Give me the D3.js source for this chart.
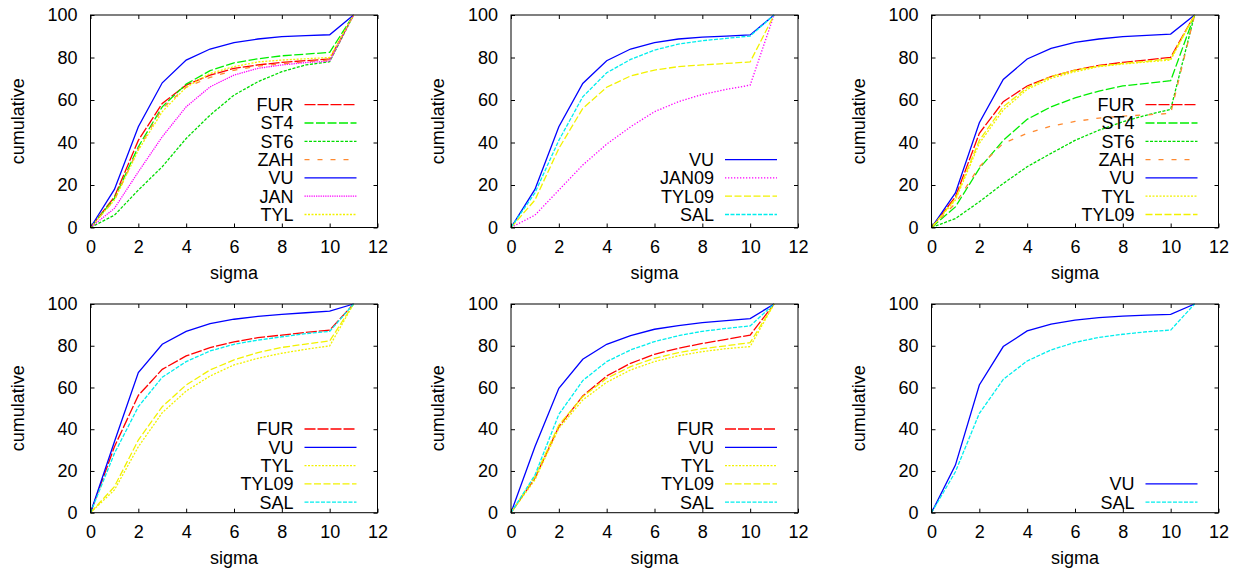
<!DOCTYPE html>
<html>
<head>
<meta charset="utf-8">
<script src="https://cdn.jsdelivr.net/npm/d3@7"></script>
<style>
  body { margin: 0; background: #fff; }
  svg text { font-family: "Liberation Sans", Arial, sans-serif; font-size: 18px; fill: #000; }
</style>
</head>
<body>
<svg id="chart" width="1241" height="575"></svg>
<script>
// x values shared by every curve
var sigma = [0, 1, 2, 3, 4, 5, 6, 7, 8, 9, 10, 11];
var xTicks = [0, 2, 4, 6, 8, 10, 12];
var yTicks = [0, 20, 40, 60, 80, 100];

// panel 1 (top left)
var p1_FUR = [0, 14.4, 41, 58.4, 67, 71.7, 74.9, 76.5, 77.7, 78.5, 79.3, 100];
var p1_ST4 = [0, 13.7, 38, 56.8, 67.5, 73.8, 77.5, 79.4, 80.8, 81.6, 82.4, 100];
var p1_ST6 = [0, 5.8, 17.6, 28.6, 41.9, 52.9, 62.3, 68.6, 73.3, 76.5, 78, 100];
var p1_ZAH = [0, 13, 37, 56, 66, 70.6, 74, 76, 77, 78, 78.8, 100];
var p1_VU  = [0, 17.9, 47.4, 68.1, 78.8, 84, 87, 88.7, 89.8, 90.3, 90.7, 100];
var p1_JAN = [0, 9, 26.2, 42.7, 56.8, 66.2, 71.7, 74.9, 76.5, 77.6, 78.3, 100];
var p1_TYL = [0, 12.9, 36.4, 54.5, 66, 72.5, 75.7, 77.9, 78.8, 79.4, 80, 100];

// panel 2 (top middle)
var p2_VU    = [0, 17.9, 47.4, 67.8, 78.5, 84, 87, 88.7, 89.6, 90.1, 90.6, 100];
var p2_JAN09 = [0, 5.8, 17.6, 29.4, 39.2, 47.4, 54.5, 59.2, 62.6, 65, 67, 100];
var p2_TYL09 = [0, 12.9, 37.2, 56, 66, 71.3, 74.1, 75.7, 76.5, 77.2, 77.9, 100];
var p2_SAL   = [0, 16.3, 41, 61.5, 72.8, 79.1, 83.5, 86.3, 87.9, 89, 90.1, 100];

// panel 3 (top right)
var p3_FUR   = [0, 14.4, 44.3, 59.2, 66.6, 71, 74.1, 76.3, 77.7, 78.8, 80.1, 100];
var p3_ST4   = [0, 9.7, 27.8, 41, 50.9, 56.8, 61, 64.2, 66.6, 67.8, 69.1, 100];
var p3_ST6   = [0, 4.2, 12.1, 20.7, 28.6, 34.9, 41, 45.8, 49.8, 52.9, 55.6, 100];
var p3_ZAH   = [0, 11.3, 28.6, 39.6, 44.3, 47.7, 49.9, 51.5, 52.4, 53, 53.7, 100];
var p3_VU    = [0, 16.3, 49.3, 69.7, 79.3, 84.3, 87.1, 88.7, 89.8, 90.4, 91, 100];
var p3_TYL   = [0, 12.9, 39.6, 55.3, 65, 70.2, 73.3, 75.7, 76.9, 77.9, 78.8, 100];
var p3_TYL09 = [0, 13.5, 41, 56.8, 65.8, 71, 74, 76, 77.2, 78.2, 79.4, 100];

// panel 4 (bottom left)
var p4_FUR   = [0, 31.6, 56.2, 68.7, 75.1, 79.1, 81.8, 83.9, 85.1, 86.4, 87.5, 100];
var p4_VU    = [0, 34, 67.1, 80.7, 86.9, 90.6, 92.7, 94.1, 95, 95.8, 96.6, 100];
var p4_TYL   = [0, 10.9, 31.6, 47.9, 58.3, 65.5, 70.8, 74, 76.4, 78.3, 79.9, 100];
var p4_TYL09 = [0, 12.5, 34.8, 50.8, 61.2, 68.4, 73.2, 76.7, 79.2, 80.8, 82.3, 100];
var p4_SAL   = [0, 28.4, 50.8, 64.9, 72.4, 77.5, 80.7, 82.7, 84.3, 85.8, 86.9, 100];

// panel 5 (bottom middle)
var p5_FUR   = [0, 16.5, 41.2, 55.9, 65.5, 71.6, 75.9, 78.8, 81.1, 83.1, 85.1, 100];
var p5_VU    = [0, 31.6, 59.6, 73.5, 80.7, 84.8, 87.9, 89.6, 91.1, 92, 93, 100];
var p5_TYL   = [0, 15.7, 40.4, 54, 62.5, 68.4, 72.4, 75.2, 77.2, 78.6, 79.6, 100];
var p5_TYL09 = [0, 17.3, 42, 55.6, 64.4, 70, 74, 76.7, 78.6, 80, 81.5, 100];
var p5_SAL   = [0, 18, 47.1, 63.3, 72.4, 78, 82, 84.8, 86.9, 88.3, 89.5, 100];

// panel 6 (bottom right)
var p6_VU  = [0, 22.8, 61.2, 79.6, 87.1, 90.4, 92.3, 93.5, 94.2, 94.7, 95, 100];
var p6_SAL = [0, 19.6, 47.6, 63.9, 72.7, 78, 81.6, 84, 85.5, 86.7, 87.5, 100];

var panels = [
  [["FUR", p1_FUR], ["ST4", p1_ST4], ["ST6", p1_ST6], ["ZAH", p1_ZAH], ["VU", p1_VU], ["JAN", p1_JAN], ["TYL", p1_TYL]],
  [["VU", p2_VU], ["JAN09", p2_JAN09], ["TYL09", p2_TYL09], ["SAL", p2_SAL]],
  [["FUR", p3_FUR], ["ST4", p3_ST4], ["ST6", p3_ST6], ["ZAH", p3_ZAH], ["VU", p3_VU], ["TYL", p3_TYL], ["TYL09", p3_TYL09]],
  [["FUR", p4_FUR], ["VU", p4_VU], ["TYL", p4_TYL], ["TYL09", p4_TYL09], ["SAL", p4_SAL]],
  [["FUR", p5_FUR], ["VU", p5_VU], ["TYL", p5_TYL], ["TYL09", p5_TYL09], ["SAL", p5_SAL]],
  [["VU", p6_VU], ["SAL", p6_SAL]]
];

// line styles, gnuplot-like
var styles = {
  FUR:   { color: "#ff0000", dash: "11,2" },
  ST4:   { color: "#00ee00", dash: "9,2.5" },
  ST6:   { color: "#00dd00", dash: "3,1.5" },
  ZAH:   { color: "#ff8a30", dash: "5,8" },
  VU:    { color: "#0000ff", dash: null },
  JAN:   { color: "#ff00ff", dash: "1.3,1" },
  JAN09: { color: "#ff00ff", dash: "1.3,1.7" },
  TYL:   { color: "#f2f200", dash: "2,1.5" },
  TYL09: { color: "#f2f200", dash: "7,2.5" },
  SAL:   { color: "#00eeee", dash: "4,1.5" }
};

var svg = d3.select("#chart");
var colLeft = [90.5, 511, 931.5], plotW = 287;
var rowTop = [15, 304], rowH = [212.5, 208.7];

panels.forEach(function(series, i){
  var col = i % 3, row = Math.floor(i / 3);
  var left = colLeft[col], top = rowTop[row], h = rowH[row];

  var x = d3.scaleLinear().domain([0, 12]).range([left, left + plotW]);
  var y = d3.scaleLinear().domain([0, 100]).range([top + h, top]);

  var g = svg.append("g");

  // curves
  var line = d3.line()
      .x(function(d, k){ return x(sigma[k]); })
      .y(function(d){ return y(d); });

  series.forEach(function(s){
    var st = styles[s[0]];
    g.append("path")
     .datum(s[1])
     .attr("d", line)
     .attr("fill", "none")
     .attr("stroke", st.color)
     .attr("stroke-width", 1.3)
     .attr("stroke-dasharray", st.dash);
  });

  // axes with inward ticks, mirrored
  g.append("g").attr("transform", "translate(0," + (top + h) + ")")
   .call(d3.axisBottom(x).tickValues(xTicks).tickSize(-4).tickPadding(13).tickFormat(d3.format("d")));
  g.append("g").attr("transform", "translate(0," + top + ")")
   .call(d3.axisTop(x).tickValues(xTicks).tickSize(-4).tickFormat(""));
  g.append("g").attr("transform", "translate(" + left + ",0)")
   .call(d3.axisLeft(y).tickValues(yTicks).tickSize(-4).tickPadding(13).tickFormat(d3.format("d")));
  g.append("g").attr("transform", "translate(" + (left + plotW) + ",0)")
   .call(d3.axisRight(y).tickValues(yTicks).tickSize(-4).tickFormat(""));

  g.selectAll(".domain").remove();
  g.selectAll(".tick line").attr("stroke", "#000").attr("stroke-width", 1);
  g.selectAll(".tick text").style("font-size", "18px").attr("fill", "#000");

  g.append("rect")
   .attr("x", left).attr("y", top)
   .attr("width", plotW).attr("height", h)
   .attr("fill", "none").attr("stroke", "#000").attr("stroke-width", 1);

  // axis titles
  g.append("text")
   .attr("transform", "translate(" + (left - 73) + "," + (top + h / 2) + ") rotate(-90)")
   .attr("text-anchor", "middle")
   .attr("dy", "0.35em")
   .text("cumulative");
  g.append("text")
   .attr("x", left + plotW / 2)
   .attr("y", top + h + 45)
   .attr("text-anchor", "middle")
   .attr("dy", "0.35em")
   .text("sigma");

  // legend, bottom right
  var n = series.length, step = 18.3;
  var lastY = top + h - (row === 0 ? 13 : 10.5);
  var right = left + plotW;
  series.forEach(function(s, k){
    var st = styles[s[0]];
    var ly = lastY - (n - 1 - k) * step;
    g.append("text")
     .attr("x", right - 84)
     .attr("y", ly)
     .attr("dy", "0.35em")
     .attr("text-anchor", "end")
     .text(s[0]);
    g.append("line")
     .attr("x1", right - 73).attr("x2", right - 21)
     .attr("y1", ly).attr("y2", ly)
     .attr("stroke", st.color)
     .attr("stroke-width", 1.3)
     .attr("stroke-dasharray", st.dash);
  });
});
</script>
</body>
</html>
